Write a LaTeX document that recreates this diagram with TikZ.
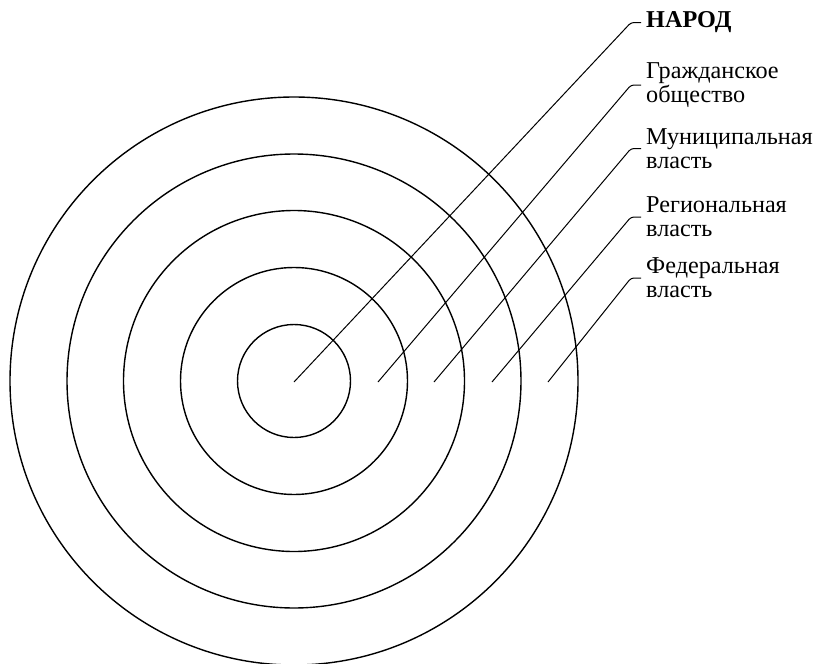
\documentclass[tikz,border=0pt]{standalone}
\usepackage{fontspec}
\setmainfont{Liberation Serif}
\begin{document}
\begin{tikzpicture}[x=1pt,y=-1pt,
  ring/.style={draw=black,line width=1.4pt},
  leader/.style={draw=black,line width=1pt,rounded corners=3pt},
  lbl/.style={anchor=west,inner xsep=5pt,inner ysep=0pt,align=left,
              font=\fontsize{24.2}{24}\selectfont}]
\useasboundingbox (0,0) rectangle (815,664);
\coordinate (c) at (294,381);
\foreach \r in {56.5,113.5,170.5,227,284}
  \draw[ring] (c) circle[radius=\r pt];
% labels
\node[lbl] (l1) at (641,22.5) {\textbf{НАРОД}};
\node[lbl] (l2) at (641,85) {Гражданское\\общество};
\node[lbl] (l3) at (641,148.5) {Муниципальная\\власть};
\node[lbl] (l4) at (641,217) {Региональная\\власть};
\node[lbl] (l5) at (641,278) {Федеральная\\власть};
% leader starts
\coordinate (s1) at (294,382);
\coordinate (s2) at (378,382);
\coordinate (s3) at (434,382);
\coordinate (s4) at (492,382);
\coordinate (s5) at (548,382);
% leader corners
\coordinate (k1) at (631,22.5);
\coordinate (k2) at (631,85);
\coordinate (k3) at (631,148.5);
\coordinate (k4) at (631,217);
\coordinate (k5) at (631,278);
\foreach \i in {1,...,5}
  \draw[leader] (s\i) -- (k\i) -- (l\i.west);
\end{tikzpicture}
\end{document}
